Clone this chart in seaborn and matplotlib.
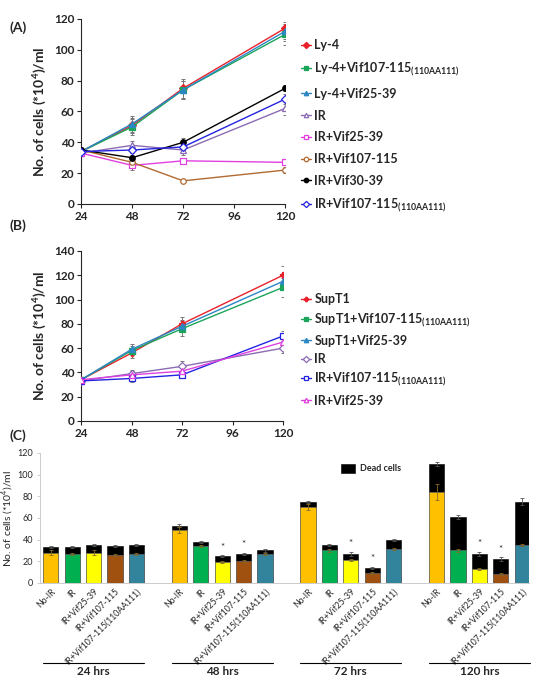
import numpy as np
import pandas as pd
import matplotlib
matplotlib.use("Agg")
import matplotlib.pyplot as plt
import seaborn as sns

sns.set_style("ticks")
plt.rcParams["font.family"] = ["Lato", "DejaVu Sans"]
plt.rcParams["mathtext.fontset"] = "custom"
plt.rcParams["mathtext.rm"] = "Lato"
plt.rcParams["mathtext.bf"] = "Lato:bold"

# =========================
# DATA
# =========================

hours = [24, 48, 72, 120]
SUB = r"$_{\mathbf{(110AA111)}}$"

# panel A
names_a = ["Ly-4", "Ly-4+Vif107-115" + SUB, "Ly-4+Vif25-39", "IR",
           "IR+Vif25-39", "IR+Vif107-115", "IR+Vif30-39", "IR+Vif107-115" + SUB]
ly4 = [34, 51, 75, 114]
ly4_vif107aa = [34, 50, 74, 110]
ly4_vif25 = [34, 52, 74, 112]
ir_a = [33, 38, 35, 62]
ir_vif25_a = [33, 25, 28, 27]
ir_vif107_a = [35, 27, 15, 22]
ir_vif30 = [35, 30, 40, 75]
ir_vif107aa_a = [34, 35, 37, 68]
vals_a = [ly4, ly4_vif107aa, ly4_vif25, ir_a, ir_vif25_a, ir_vif107_a, ir_vif30, ir_vif107aa_a]
err_a = [[2, 5, 6, 7], [2, 5, 6, 7], [2, 5, 6, 6], [2, 3, 3, 4],
         [2, 3, 2, 2], [1, 1, 1, 2], [2, 2, 3, 2], [2, 2, 2, 3]]

# panel B
names_b = ["SupT1", "SupT1+Vif107-115" + SUB, "SupT1+Vif25-39", "IR",
           "IR+Vif107-115" + SUB, "IR+Vif25-39"]
supt1 = [34, 56, 80, 120]
supt1_vif107aa = [34, 58, 76, 110]
supt1_vif25 = [34, 59, 78, 115]
ir_b = [33, 39, 45, 60]
ir_vif107aa_b = [33, 35, 38, 70]
ir_vif25_b = [34, 38, 41, 65]
vals_b = [supt1, supt1_vif107aa, supt1_vif25, ir_b, ir_vif107aa_b, ir_vif25_b]
err_b = [[2, 4, 6, 8], [2, 4, 6, 8], [2, 4, 5, 7], [2, 3, 4, 4], [2, 3, 3, 4], [2, 3, 3, 4]]

# panel C
conditions = ["No-IR", "IR", "IR+Vif25-39", "IR+Vif107-115", "IR+Vif107-115(110AA111)"]
group_labels = ["24 hrs", "48 hrs", "72 hrs", "120 hrs"]
live_cells = [[28, 27, 28, 26, 27],
              [49, 34, 19, 20, 27],
              [70, 30, 21, 9, 31],
              [84, 30, 13, 8, 35]]
total_cells = [[33, 33, 35, 34, 35],
               [53, 38, 25, 27, 30],
               [75, 35, 27, 14, 40],
               [110, 61, 27, 22, 75]]
err_live = [[2, 1, 2, 1, 1],
            [3, 1, 1, 1, 1],
            [3, 1, 1, 1, 1],
            [7, 1, 1, 1, 1]]
err_total = [[1, 1, 1, 1, 1],
             [1, 1, 1, 1, 1],
             [1, 1, 2, 1, 1],
             [2, 2, 2, 2, 3]]
significant = [[False] * 5,
               [False, False, True, True, False],
               [False, False, True, True, False],
               [False, False, True, True, False]]

# =========================
# STYLES
# =========================

style_a = [("#E8212B", "D", True), ("#1AA55A", "s", True), ("#2C86C4", "^", True),
           ("#8A6BB4", "^", False), ("#E040E0", "s", False), ("#B06A32", "o", False),
           ("#000000", "o", True), ("#2424E0", "D", False)]
style_b = [("#E8212B", "P", True), ("#1AA55A", "s", True), ("#2C86C4", "^", True),
           ("#8A6BB4", "D", False), ("#2424E0", "s", False), ("#E040E0", "^", False)]
bar_colors = ["#FFC000", "#00B050", "#FFFF00", "#A0500F", "#31849B"]

fig = plt.figure(figsize=(5.34, 6.79), dpi=100)
ax_a = fig.add_axes([0.152, 0.6996, 0.382, 0.2725])
ax_b = fig.add_axes([0.152, 0.380, 0.378, 0.2504])
ax_c = fig.add_axes([0.075, 0.1414, 0.915, 0.1915])


def line_panel(ax, names, vals, errs, styles, ymax, legend_top, labelspacing):
    for name, v, e, (c, m, filled) in zip(names, vals, errs, styles):
        ax.errorbar(hours, v, yerr=e, fmt="none", ecolor="#777777", elinewidth=0.7,
                    capsize=1.5, capthick=0.7, zorder=1)
        sns.lineplot(x=hours, y=v, ax=ax, color=c, marker=m, markersize=4,
                     markerfacecolor=c if filled else "white", markeredgecolor=c,
                     markeredgewidth=0.9, linewidth=1.0, label=name, zorder=3)
    ax.set_xlim(24, 120)
    ax.set_xticks([24, 48, 72, 96, 120])
    ax.set_ylim(0, ymax)
    ax.set_yticks(np.arange(0, ymax + 1, 20))
    ax.set_ylabel(r"No. of cells (*10$^{\mathbf{4}}$)/ml", fontsize=10, fontweight="bold")
    ax.set_xlabel("")
    for lbl in ax.get_xticklabels() + ax.get_yticklabels():
        lbl.set_fontweight("bold")
        lbl.set_fontsize(8.5)
    ax.tick_params(length=3, width=0.8, pad=2)
    sns.despine(ax=ax)
    ax.legend(loc="upper left", bbox_to_anchor=(295 / 534, legend_top),
              bbox_transform=fig.transFigure, frameon=False, handlelength=0.8,
              handletextpad=0.25, borderpad=0, labelspacing=labelspacing,
              prop={"weight": "bold", "size": 9}, markerscale=0.8)


line_panel(ax_a, names_a, vals_a, err_a, style_a, 120, 1 - 33 / 679, 0.78)
line_panel(ax_b, names_b, vals_b, err_b, style_b, 140, 1 - 287 / 679, 0.5)

# =========================
# PANEL C - STACKED BARS
# =========================

rows = []
for g, glabel in enumerate(group_labels):
    for i, cond in enumerate(conditions):
        rows.append({"pos": g * 6 + i, "group": glabel, "cond": cond,
                     "live": live_cells[g][i], "total": total_cells[g][i],
                     "err_live": err_live[g][i], "err_total": err_total[g][i],
                     "sig": significant[g][i]})
df = pd.DataFrame(rows)

sns.barplot(data=df, x="pos", y="total", native_scale=True, color="black",
            width=15 / 21, errorbar=None, ax=ax_c, label="Dead cells",
            saturation=1, edgecolor="black", linewidth=0.4)
sns.barplot(data=df, x="pos", y="live", hue="cond", palette=bar_colors,
            hue_order=conditions, native_scale=True, dodge=False, width=15 / 21,
            saturation=1, errorbar=None, ax=ax_c, legend=False,
            edgecolor="#777777", linewidth=0.4)
ax_c.errorbar(df["pos"], df["total"], yerr=df["err_total"], fmt="none",
              ecolor="#555555", elinewidth=0.6, capsize=1.2, capthick=0.6)
ax_c.errorbar(df["pos"], df["live"], yerr=df["err_live"], fmt="none",
              ecolor="#8a6a20", elinewidth=0.6, capsize=1.2, capthick=0.6)
for _, r in df[df["sig"]].iterrows():
    ax_c.text(r["pos"], r["total"] + r["err_total"] + 3, "*", ha="center",
              va="bottom", fontsize=7)

ax_c.set_xlim(-0.5, 22.3)
ax_c.set_ylim(0, 120)
ax_c.set_yticks(np.arange(0, 121, 20))
ax_c.set_xticks(df["pos"])
ax_c.set_xticklabels(df["cond"], rotation=45, ha="right", rotation_mode="anchor",
                     fontsize=6.2)
ax_c.set_xlabel("")
ax_c.set_ylabel(r"No. of cells (*10$^{4}$)/ml", fontsize=7.5)
ax_c.yaxis.set_label_coords(-0.05, 0.5)
ax_c.tick_params(axis="y", labelsize=6.5, length=2, width=0.5, color="#bbbbbb", pad=3)
ax_c.tick_params(axis="x", length=0, pad=3)
sns.despine(ax=ax_c)
for sp in ["left", "bottom"]:
    ax_c.spines[sp].set_color("#cccccc")
    ax_c.spines[sp].set_linewidth(0.7)
ax_c.legend(loc="upper left", bbox_to_anchor=(336 / 534, 1 - 459 / 679),
            bbox_transform=fig.transFigure, frameon=False, handlelength=1.6,
            handleheight=1.3, handletextpad=0.6, borderpad=0,
            prop={"weight": "bold", "size": 6.5})

trans = ax_c.get_xaxis_transform()
for g, glabel in enumerate(group_labels):
    ax_c.plot([g * 6 - 0.36, g * 6 + 4.36], [-0.615, -0.615], color="black",
              lw=0.8, transform=trans, clip_on=False)
    ax_c.text(g * 6 + 2, -0.64, glabel, ha="center", va="top", fontsize=8.5,
              fontweight="bold", transform=trans)

# panel letters
for txt, y in [("(A)", 28), ("(B)", 226), ("(C)", 436)]:
    fig.text(10 / 534, 1 - y / 679, txt, fontsize=10, fontweight="bold", va="center")

fig.savefig("out.png", dpi=100)
